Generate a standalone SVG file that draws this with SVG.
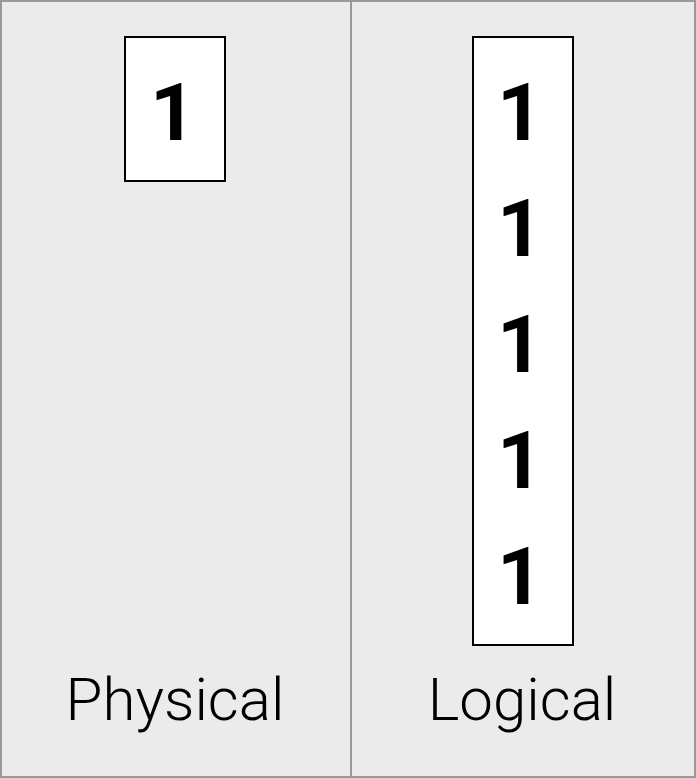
<svg xmlns="http://www.w3.org/2000/svg" width="696" height="778" viewBox="0 0 696 778">
<style>
.panel{fill:#ebebeb;stroke:#999999;stroke-width:2}
.box{fill:#ffffff;stroke:#000000;stroke-width:2}
.num{font-family:Roboto,"Liberation Sans",sans-serif;font-weight:bold;font-size:80px;fill:#000;text-anchor:middle}
.lbl{font-family:Roboto,"Liberation Sans",sans-serif;font-weight:300;font-size:60px;fill:#000;text-anchor:middle}
</style>
<g id="physical">
<rect class="panel" x="1" y="1" width="350" height="776"/>
<rect class="box" x="125" y="37" width="100" height="144"/>
<text class="num" x="173" y="140">1</text>
<text class="lbl" x="175" y="720">Physical</text>
</g>
<g id="logical">
<rect class="panel" x="351" y="1" width="344" height="776"/>
<rect class="box" x="473" y="37" width="100" height="608"/>
<text class="num" x="520" y="140">1</text>
<text class="num" x="520" y="256">1</text>
<text class="num" x="520" y="372">1</text>
<text class="num" x="520" y="488">1</text>
<text class="num" x="520" y="604">1</text>
<text class="lbl" x="522" y="720">Logical</text>
</g>
<g id="connectors"/>
</svg>
